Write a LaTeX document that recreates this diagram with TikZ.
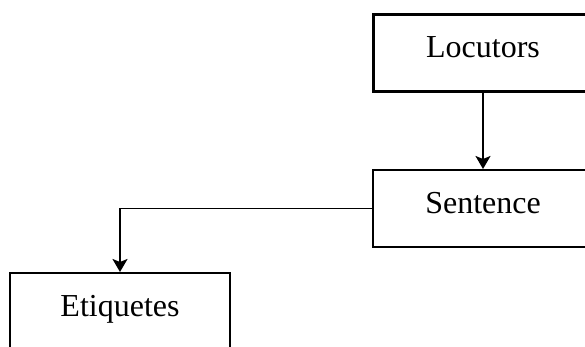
\documentclass[tikz,border=0pt]{standalone}
\usepackage{fontspec}
\setmainfont{Liberation Serif}
\usetikzlibrary{arrows.meta}
\begin{document}
\begin{tikzpicture}[x=1pt,y=-1pt,
  box/.style={draw=black, line width=2pt, rectangle, inner sep=0pt,
    minimum width=220pt, text height=43pt, text depth=34pt,
    font=\fontsize{32}{38}\selectfont},
  conn/.style={line width=1.8pt, -{Stealth[length=13pt,width=15pt,inset=3pt]}}]
\path[use as bounding box] (0,0) rectangle (585,347);
\clip (0,0) rectangle (585,347);
\fill[white] (0,0) rectangle (585,347);
\node[box, line width=3pt] (loc) at (483,53.5) {Locutors};
\node[box] (sen) at (483,208.5) {Sentence};
\node[box] (eti) at (120,311.5) {Etiquetes};
\draw[conn] (loc.south) -- (sen.north);
\draw[conn] (sen.west) -| (eti.north);
\end{tikzpicture}
\end{document}
